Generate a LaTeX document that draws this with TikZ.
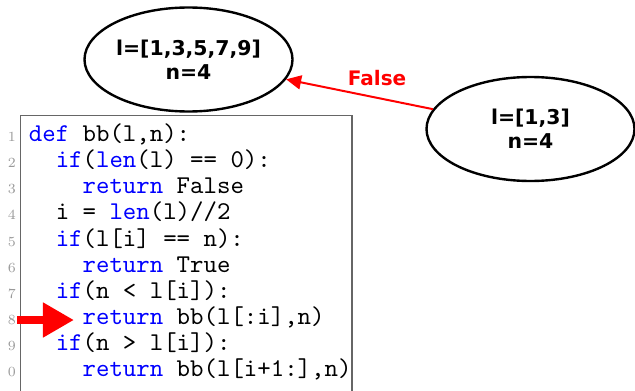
\documentclass[tikz,border=0pt]{standalone}
\usepackage{fontspec}
\usetikzlibrary{shapes.geometric,arrows.meta}
\newfontfamily\labelfont{DejaVu Sans}
\newfontfamily\codefont{lmmono10-regular.otf}
\newcommand\kw[1]{\textcolor{blue}{#1}}
\newcommand\Step{26.15}
\newcommand\Cw{13.44}
\newcommand\Bx{28.5}
\tikzset{
  call/.style={
    shape = ellipse,
    draw,
    line width = 1.2pt,
    minimum width = 104pt,
    minimum height = 52pt,
    inner sep = 0pt,
    align = center,
    font = \labelfont\bfseries\fontsize{10.2}{12}\selectfont
  },
  ret/.style={
    red,
    line width = 1pt,
    -{Triangle[length=7.5pt,width=7pt]}
  },
  retlabel/.style={
    text = red,
    font = \labelfont\bfseries\fontsize{10}{12}\selectfont
  },
  code/.style={
    anchor = base west,
    inner sep = 0pt,
    font = \codefont\fontsize{12.8}{14}\selectfont
  },
  lnum/.style={
    anchor = base east,
    inner sep = 0pt,
    text = black!40,
    font = \fontsize{7}{8}\selectfont
  },
  here/.style={
    red,
    line width = 4pt,
    -{Triangle[length=15.5pt,width=16.5pt]}
  }
}

\begin{document}
\begin{tikzpicture}[x=0.5pt,y=-0.5pt]
  \useasboundingbox (0,0) rectangle (635,390);
  \clip (0,0) rectangle (635,390);

  % the two calls
  \node[call] (top) at (188.5,59.5) {l=[1,3,5,7,9]\\n=4};
  \node[call] (sub) at (530.5,129) {l=[1,3]\\n=4};
  \draw[ret] (sub) -- node[retlabel, pos=0.38, above, yshift=2pt] (flab) {False} (top);

  % listing
  \draw[black!60, line width=0.6pt] (20.5,115.5) rectangle (352,400);

  \foreach \i/\t in {1/1,2/2,3/3,4/4,5/5,6/6,7/7,8/8,9/9,10/0}
    \node[lnum] (n\i) at (16.2,{141.5+(\i-1)*\Step}) {\t};

  \node[code] (c1) at (\Bx,141.5) {\kw{def} bb(l,n):};
  \node[code] (c2) at ({\Bx+2*\Cw},{141.5+1*\Step}) {\kw{if}(\kw{len}(l) == 0):};
  \node[code] (c3) at ({\Bx+4*\Cw},{141.5+2*\Step}) {\kw{return} False};
  \node[code] (c4) at ({\Bx+2*\Cw},{141.5+3*\Step}) {i = \kw{len}(l)//2};
  \node[code] (c5) at ({\Bx+2*\Cw},{141.5+4*\Step}) {\kw{if}(l[i] == n):};
  \node[code] (c6) at ({\Bx+4*\Cw},{141.5+5*\Step}) {\kw{return} True};
  \node[code] (c7) at ({\Bx+2*\Cw},{141.5+6*\Step}) {\kw{if}(n < l[i]):};
  \node[code] (c8) at ({\Bx+4*\Cw},{141.5+7*\Step}) {\kw{return} bb(l[:i],n)};
  \node[code] (c9) at ({\Bx+2*\Cw},{141.5+8*\Step}) {\kw{if}(n > l[i]):};
  \node[code] (c10) at ({\Bx+4*\Cw},{141.5+9*\Step}) {\kw{return} bb(l[i+1:],n)};

  % current line marker
  \coordinate (tail) at (17,320);
  \draw[here, shorten >=4.15pt] (tail) -- (tail -| c8.west);
\end{tikzpicture}
\end{document}
